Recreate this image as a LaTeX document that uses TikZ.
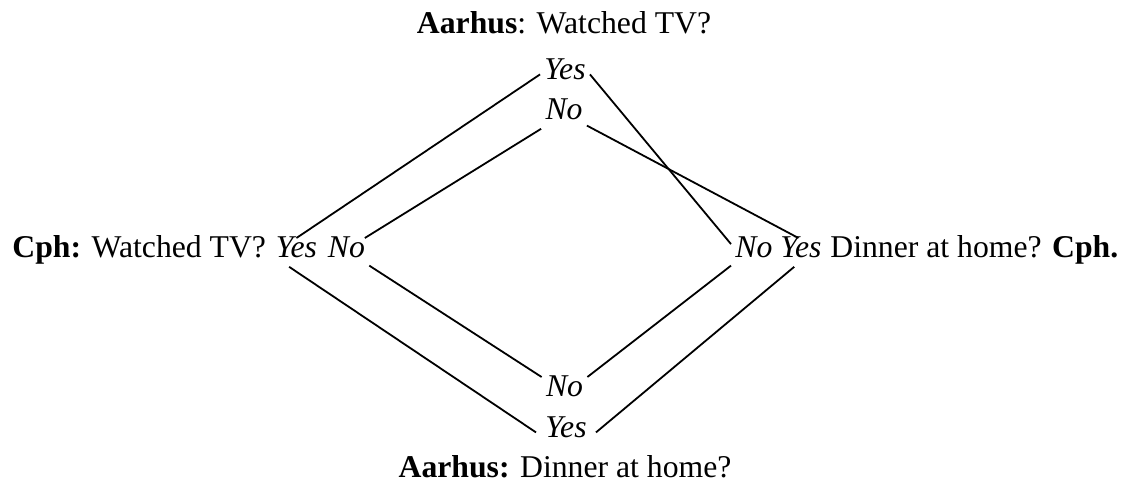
\documentclass[tikz,border=0pt]{standalone}
\usepackage{fontspec}
\setmainfont{Liberation Serif}
\begin{document}
\begin{tikzpicture}[x=0.5pt,y=-0.5pt,
  every node/.style={font=\fontsize{15.85}{19}\selectfont},
  lab/.style={inner sep=0pt},
  word/.style={inner xsep=2pt, inner ysep=2.5pt, text height=0.68em, text depth=0.22em, font=\fontsize{15.85}{19}\selectfont\itshape},
  link/.style={draw=black, line width=0.9pt}]
\useasboundingbox (0,0) rectangle (1124,484);
% labels
\node[lab, anchor=base] (toplab) at (564,33) {\textbf{Aarhus}: Watched TV?};
\node[lab, anchor=base] (botlab) at (565,477) {\textbf{Aarhus:} Dinner at home?};
\node[lab, anchor=base west] (cph) at (12,257) {\textbf{Cph:} Watched TV?};
\node[lab, anchor=base west] (rlab) at (830,257) {Dinner at home? \textbf{Cph.}};
% answer words
\node[word, anchor=base] (tyes) at (565,79) {Yes};
\node[word, anchor=base] (tno) at (564,119) {No};
\node[word, anchor=base west] (cyes) at (271.5,257) {Yes};
\node[word, anchor=base west] (cno) at (323.5,257) {No};
\node[word, anchor=base west] (rno) at (731,257) {No};
\node[word, anchor=base west] (ryes) at (776,257) {Yes};
\node[word, anchor=base] (bno) at (564.5,396) {No};
\node[word, anchor=base, inner xsep=4.5pt] (byes) at (566,437) {Yes};
% connectors
\draw[link] (tyes.west) -- (cyes.north);
\draw[link] (tno.south west) -- (cno.38);
\draw[link] (tyes.east) -- (rno.160);
\draw[link] (tno.-26) -- (ryes.100);
\draw[link] (cyes.-117) -- (byes.west);
\draw[link] (cno.-30) -- (bno.north west);
\draw[link] (rno.-150) -- (bno.north east);
\draw[link] (ryes.-115) -- (byes.east);
\end{tikzpicture}
\end{document}
